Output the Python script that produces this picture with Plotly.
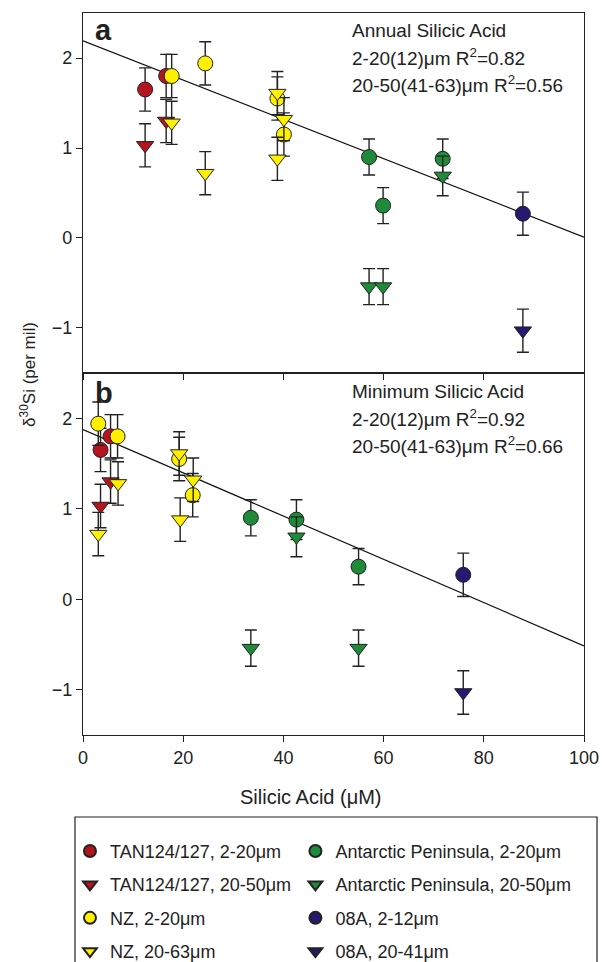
import plotly.graph_objects as go

# Silicic acid (uM) and delta30Si (per mil) for each sample group.
# "annual" = annual mean silicic acid (panel a), "minimum" = minimum silicic acid (panel b)
tan_fine_annual = [12.4, 16.6]
tan_fine_minimum = [3.5, 5.5]
tan_fine_d30si = [1.65, 1.80]
tan_fine_err = [0.24, 0.24]

tan_coarse_annual = [12.4, 16.6]
tan_coarse_minimum = [3.5, 5.5]
tan_coarse_d30si = [1.03, 1.30]
tan_coarse_err = [0.24, 0.24]

nz_fine_annual = [24.4, 17.7, 38.8, 40.1]
nz_fine_minimum = [3.05, 6.9, 19.2, 21.9]
nz_fine_d30si = [1.94, 1.80, 1.55, 1.15]
nz_fine_err = [0.24, 0.24, 0.24, 0.24]

nz_coarse_annual = [24.4, 17.7, 38.8, 40.1, 38.8]
nz_coarse_minimum = [3.05, 7.0, 19.2, 22.0, 19.4]
nz_coarse_d30si = [0.72, 1.28, 1.61, 1.32, 0.88]
nz_coarse_err = [0.24, 0.24, 0.24, 0.24, 0.24]

ap_fine_annual = [57.1, 71.8, 59.9]
ap_fine_minimum = [33.5, 42.6, 55.0]
ap_fine_d30si = [0.90, 0.88, 0.36]
ap_fine_err = [0.20, 0.22, 0.20]

ap_coarse_annual = [57.1, 71.8, 59.9]
ap_coarse_minimum = [33.5, 42.6, 55.0]
ap_coarse_d30si = [-0.54, 0.69, -0.54]
ap_coarse_err = [0.20, 0.22, 0.20]

a08_fine_annual = [87.8]
a08_fine_minimum = [75.9]
a08_fine_d30si = [0.27]
a08_fine_err = [0.24]

a08_coarse_annual = [87.8]
a08_coarse_minimum = [75.9]
a08_coarse_d30si = [-1.03]
a08_coarse_err = [0.24]

# Linear fits (intercept, slope) shown in each panel
fit_annual = (2.19, -0.0218)
fit_minimum = (1.875, -0.0239)
fit_x = [0, 100]

x_ticks = [0, 20, 40, 60, 80, 100]
y_ticks = [-1, 0, 1, 2]

RED = "#B3141D"
YELLOW = "#FFF000"
GREEN = "#1F8A3A"
NAVY = "#26196F"
INK = "#222222"
FONT = "Arial, Liberation Sans, sans-serif"

groups = [
    ("TAN124/127, 2-20μm", "circle", RED, tan_fine_annual, tan_fine_minimum, tan_fine_d30si, tan_fine_err, "legend"),
    ("TAN124/127, 20-50μm", "triangle-down", RED, tan_coarse_annual, tan_coarse_minimum, tan_coarse_d30si, tan_coarse_err, "legend"),
    ("NZ, 2-20μm", "circle", YELLOW, nz_fine_annual, nz_fine_minimum, nz_fine_d30si, nz_fine_err, "legend"),
    ("NZ, 20-63μm", "triangle-down", YELLOW, nz_coarse_annual, nz_coarse_minimum, nz_coarse_d30si, nz_coarse_err, "legend"),
    ("Antarctic Peninsula, 2-20μm", "circle", GREEN, ap_fine_annual, ap_fine_minimum, ap_fine_d30si, ap_fine_err, "legend2"),
    ("Antarctic Peninsula, 20-50μm", "triangle-down", GREEN, ap_coarse_annual, ap_coarse_minimum, ap_coarse_d30si, ap_coarse_err, "legend2"),
    ("08A, 2-12μm", "circle", NAVY, a08_fine_annual, a08_fine_minimum, a08_fine_d30si, a08_fine_err, "legend2"),
    ("08A, 20-41μm", "triangle-down", NAVY, a08_coarse_annual, a08_coarse_minimum, a08_coarse_d30si, a08_coarse_err, "legend2"),
]

fig = go.Figure()

# regression lines
for fit, xa, ya in [(fit_annual, "x", "y"), (fit_minimum, "x2", "y2")]:
    b0, b1 = fit
    fig.add_trace(go.Scatter(
        x=fit_x, y=[b0 + b1 * v for v in fit_x], mode="lines",
        line=dict(color="#111111", width=1.2), showlegend=False,
        hoverinfo="skip", xaxis=xa, yaxis=ya,
    ))

for name, symbol, color, xa_vals, xb_vals, yv, err, leg in groups:
    for xs, xa, ya, show in [(xa_vals, "x", "y", True), (xb_vals, "x2", "y2", False)]:
        fig.add_trace(go.Scatter(
            x=xs, y=yv, mode="markers", name=name,
            legend=leg, legendgroup=name, showlegend=show,
            marker=dict(symbol=symbol, size=15, color=color,
                        line=dict(color=INK, width=1)),
            error_y=dict(type="data", array=err, visible=True,
                         color=INK, thickness=1.4, width=6),
            xaxis=xa, yaxis=ya,
        ))

split = 0.5014
axis_common = dict(showline=True, linecolor=INK, linewidth=1.4, mirror=True,
                   showgrid=False, zeroline=False, ticks="outside",
                   ticklen=6, tickwidth=1.2, tickcolor=INK,
                   tickfont=dict(size=18, color=INK, family=FONT))

legend_common = dict(yanchor="top", xanchor="left",
                     bgcolor="rgba(0,0,0,0)", borderwidth=0,
                     font=dict(size=18, color=INK, family=FONT),
                     itemsizing="constant", traceorder="grouped", tracegroupgap=7)

fig.update_layout(
    width=602, height=962,
    margin=dict(l=83, r=18, t=13, b=227, autoexpand=False),
    paper_bgcolor="white", plot_bgcolor="white",
    font=dict(family=FONT, color=INK),
    xaxis=dict(domain=[0, 1], anchor="y", range=[0, 100], tickvals=x_ticks,
               showticklabels=False, **axis_common),
    yaxis=dict(domain=[split, 1], anchor="x", range=[-1.5, 2.5], tickvals=y_ticks,
               **axis_common),
    xaxis2=dict(domain=[0, 1], anchor="y2", range=[0, 100], tickvals=x_ticks,
                **axis_common),
    yaxis2=dict(domain=[0, split], anchor="x2", range=[-1.5, 2.5], tickvals=y_ticks,
                **axis_common),
    legend=dict(x=-0.026, y=-0.1355, **legend_common),
    legend2=dict(x=0.424, y=-0.1355, **legend_common),
    showlegend=True,
)

# frame around the two legend columns
fig.add_shape(type="rect", xref="paper", yref="paper",
              x0=-0.016, x1=1.026, y0=-0.34, y1=-0.1136,
              line=dict(color=INK, width=1.2), fillcolor="rgba(0,0,0,0)")


def px_to_paper(py):
    return (735 - py) / 722


annotations = [
    dict(text="<b>a</b>", x=0.02, y=px_to_paper(30), size=29),
    dict(text="<b>b</b>", x=0.02, y=px_to_paper(393), size=29),
    dict(text="Annual Silicic Acid", x=0.533, y=px_to_paper(31), size=19),
    dict(text="2-20(12)μm R<sup>2</sup>=0.82", x=0.533, y=px_to_paper(57), size=19),
    dict(text="20-50(41-63)μm R<sup>2</sup>=0.56", x=0.533, y=px_to_paper(84), size=19),
    dict(text="Minimum Silicic Acid", x=0.533, y=px_to_paper(391), size=19),
    dict(text="2-20(12)μm R<sup>2</sup>=0.92", x=0.533, y=px_to_paper(418), size=19),
    dict(text="20-50(41-63)μm R<sup>2</sup>=0.66", x=0.533, y=px_to_paper(445), size=19),
]
for a in annotations:
    fig.add_annotation(text=a["text"], x=a["x"], y=a["y"], xref="paper", yref="paper",
                       xanchor="left", yanchor="middle", showarrow=False,
                       font=dict(size=a["size"], color=INK, family=FONT))

# axis titles
fig.add_annotation(text="Silicic Acid (μM)", x=0.455, y=px_to_paper(797),
                   xref="paper", yref="paper", xanchor="center", yanchor="middle",
                   showarrow=False, font=dict(size=20, color=INK, family=FONT))
fig.add_annotation(text="δ<sup>30</sup>Si (per mil)", x=-0.11, y=px_to_paper(374),
                   xref="paper", yref="paper", xanchor="center", yanchor="middle",
                   textangle=-90, showarrow=False,
                   font=dict(size=17, color=INK, family=FONT))

fig.write_html("out.html")
